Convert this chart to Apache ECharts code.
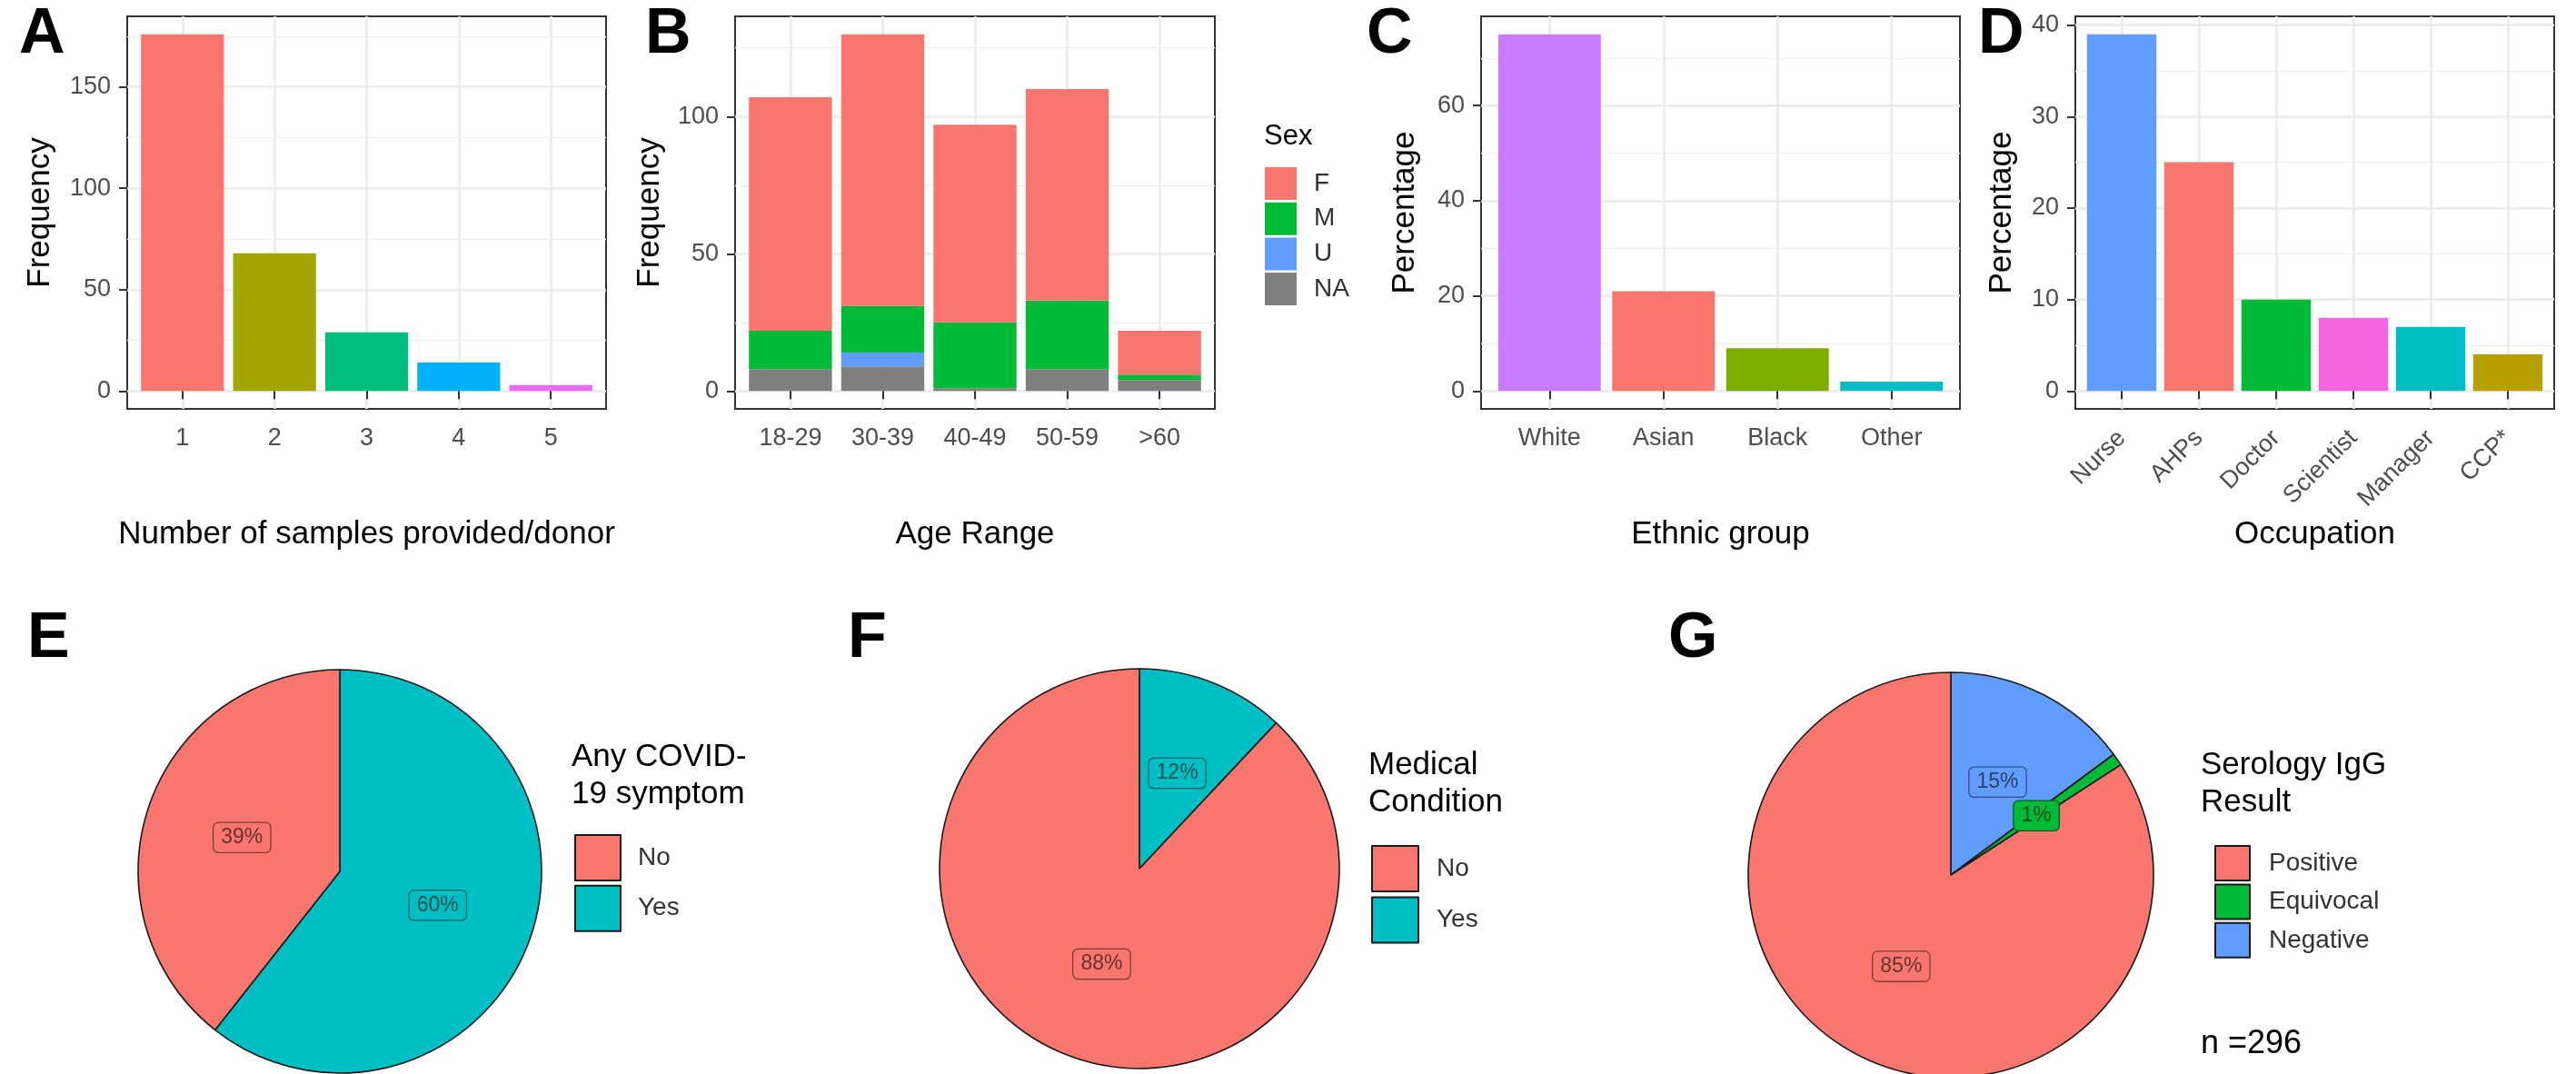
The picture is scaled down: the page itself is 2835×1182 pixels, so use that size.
<!DOCTYPE html>
<html>
<head>
<meta charset="utf-8">
<title>Donor characteristics</title>
<script src="https://cdn.jsdelivr.net/npm/echarts@6/dist/echarts.min.js"></script>
<style>
  html, body { margin: 0; padding: 0; background: #ffffff; }
  #chart { width: 2835px; height: 1182px; }
</style>
</head>
<body>
<div id="chart"></div>
<script>
// ---------- data ----------
// A: samples provided per donor
const sampleCounts = ['1', '2', '3', '4', '5'];
const donorFreq = [176, 68, 29, 14, 3];
const freqTicksA = [0, 50, 100, 150];
const freqMinorA = [25, 75, 125, 175];

// B: age range by sex (counts)
const ageRanges = ['18-29', '30-39', '40-49', '50-59', '>60'];
const sexLevels = ['F', 'M', 'U', 'NA'];
const ageF = [85, 99, 72, 77, 16];
const ageM = [14, 17, 24, 25, 2];
const ageU = [0, 5, 0, 0, 0];
const ageNA = [8, 9, 1, 8, 4];
const freqTicksB = [0, 50, 100];
const freqMinorB = [25, 75, 125];

// C: ethnic group (%)
const ethnicGroups = ['White', 'Asian', 'Black', 'Other'];
const ethnicPct = [75, 21, 9, 2];
const pctTicksC = [0, 20, 40, 60];
const pctMinorC = [10, 30, 50, 70];

// D: occupation (%)
const occupations = ['Nurse', 'AHPs', 'Doctor', 'Scientist', 'Manager', 'CCP*'];
const occupationPct = [39, 25, 10, 8, 7, 4];
const pctTicksD = [0, 10, 20, 30, 40];
const pctMinorD = [5, 15, 25, 35];

// E-G: pies (%)
const symptomLevels = ['No', 'Yes'];
const symptomPct = [39, 60];
const conditionLevels = ['No', 'Yes'];
const conditionPct = [88, 12];
const serologyLevels = ['Positive', 'Equivocal', 'Negative'];
const serologyPct = [85, 1, 15];
const sampleSize = 296;

// ---------- styling ----------
const FONT = "'Liberation Sans', Arial, Helvetica, sans-serif";
const hue5 = ['#F8766D', '#A3A500', '#00BF7D', '#00B0F6', '#E76BF3'];
const sexColors = { F: '#F8766D', M: '#00BA38', U: '#619CFF', NA: '#7F7F7F' };
const ethnicColors = ['#C77CFF', '#F8766D', '#7CAE00', '#00BFC4'];
const occupationColors = ['#619CFF', '#F8766D', '#00BA38', '#F564E3', '#00BFC4', '#B79F00'];
const yesNoColors = { No: '#F8766D', Yes: '#00BFC4' };
const serologyColors = { Positive: '#F8766D', Equivocal: '#00BA38', Negative: '#619CFF' };

function darken(hex, f) {
  const n = parseInt(hex.slice(1), 16);
  const r = Math.round(((n >> 16) & 255) * f);
  const g = Math.round(((n >> 8) & 255) * f);
  const b = Math.round((n & 255) * f);
  return 'rgb(' + r + ',' + g + ',' + b + ')';
}

// ---------- bar panels (top row) ----------
const PANEL_TOP = 18;
const PANEL_H = 432;
const panelBox = [
  { left: 140, right: 667 },
  { left: 809, right: 1337 },
  { left: 1630, right: 2157 },
  { left: 2284, right: 2811 }
];

const grids = [], xAxes = [], yAxes = [], series = [];

function addPanel(i, cats, yMax, ticks, minor, rotate) {
  const box = panelBox[i];
  const w = box.right - box.left;
  const pos = cats.map((c, k) => k + 1);
  grids.push({
    left: box.left, top: PANEL_TOP, width: w, height: PANEL_H,
    show: true, backgroundColor: '#ffffff', borderColor: '#333333', borderWidth: 2
  });
  xAxes.push({
    type: 'value', gridIndex: i, min: 0.4, max: cats.length + 0.6,
    axisLine: { show: false },
    axisTick: { show: true, length: 9, lineStyle: { color: '#333333', width: 2 }, customValues: pos },
    axisLabel: {
      customValues: pos, formatter: v => cats[Math.round(v) - 1],
      color: '#4D4D4D', fontSize: 27, fontFamily: FONT,
      margin: rotate ? 28 : 19, rotate: rotate || 0
    },
    splitLine: { show: true, lineStyle: { color: '#EBEBEB', width: 2.5 } }
  });
  // ggplot-style 5% expansion of the continuous axis
  const lo = -0.05 * yMax, hi = 1.05 * yMax;
  yAxes.push({
    type: 'value', gridIndex: i, min: lo, max: hi,
    axisLine: { show: false },
    axisTick: { show: true, length: 9, lineStyle: { color: '#333333', width: 2 }, customValues: ticks },
    axisLabel: { customValues: ticks, color: '#4D4D4D', fontSize: 27, fontFamily: FONT, margin: 18 },
    splitLine: { show: true, lineStyle: { color: '#EBEBEB', width: 2.5 } }
  });
  // minor gridlines
  yAxes.push({
    type: 'value', gridIndex: i, min: lo, max: hi, position: 'left',
    axisLine: { show: false },
    axisTick: { show: false, customValues: minor },
    axisLabel: { show: false, customValues: minor },
    splitLine: { show: true, lineStyle: { color: '#F1F1F1', width: 1.3 } }
  });
  return { xAxisIndex: i, yAxisIndex: 2 * i, barWidth: 0.9 * w / (cats.length + 0.2) };
}

// A
const pA = addPanel(0, sampleCounts, Math.max(...donorFreq), freqTicksA, freqMinorA);
series.push({
  type: 'bar', xAxisIndex: pA.xAxisIndex, yAxisIndex: pA.yAxisIndex, barWidth: pA.barWidth,
  data: donorFreq.map((v, k) => ({ value: [k + 1, v], itemStyle: { color: hue5[k] } }))
});

// B (stacked, F on top). Rows are [count, position] so the count column
// is the one that gets stacked.
const ageTotals = ageRanges.map((a, k) => ageF[k] + ageM[k] + ageU[k] + ageNA[k]);
const pB = addPanel(1, ageRanges, Math.max(...ageTotals), freqTicksB, freqMinorB);
const sexSeries = { F: ageF, M: ageM, U: ageU, NA: ageNA };
['NA', 'U', 'M', 'F'].forEach(s => {
  series.push({
    type: 'bar', name: s, stack: 'sex',
    xAxisIndex: pB.xAxisIndex, yAxisIndex: pB.yAxisIndex, barWidth: pB.barWidth,
    itemStyle: { color: sexColors[s] },
    encode: { x: 1, y: 0 },
    data: sexSeries[s].map((v, k) => [v, k + 1])
  });
});

// C
const pC = addPanel(2, ethnicGroups, Math.max(...ethnicPct), pctTicksC, pctMinorC);
series.push({
  type: 'bar', xAxisIndex: pC.xAxisIndex, yAxisIndex: pC.yAxisIndex, barWidth: pC.barWidth,
  data: ethnicPct.map((v, k) => ({ value: [k + 1, v], itemStyle: { color: ethnicColors[k] } }))
});

// D
const pD = addPanel(3, occupations, Math.max(...occupationPct), pctTicksD, pctMinorD, 45);
series.push({
  type: 'bar', xAxisIndex: pD.xAxisIndex, yAxisIndex: pD.yAxisIndex, barWidth: pD.barWidth,
  data: occupationPct.map((v, k) => ({ value: [k + 1, v], itemStyle: { color: occupationColors[k] } }))
});

// ---------- pies (bottom row) ----------
function addPie(levels, values, colors, center, radius) {
  const items = levels.map((name, k) => {
    const c = colors[name];
    return {
      name: name, value: values[k],
      itemStyle: { color: c },
      label: {
        color: darken(c, 0.42), backgroundColor: c,
        borderColor: darken(c, 0.5), borderWidth: 1.3, borderRadius: 5
      }
    };
  }).reverse();
  series.push({
    type: 'pie', center: center, radius: radius,
    startAngle: 90, clockwise: true, avoidLabelOverlap: false,
    itemStyle: { borderColor: '#1a1a1a', borderWidth: 1.6 },
    label: {
      show: true, position: 'inside', formatter: '{c}%',
      fontSize: 23, fontFamily: FONT, padding: [5, 8, 4, 8]
    },
    labelLine: { show: false },
    emphasis: { disabled: true },
    data: items
  });
}
addPie(symptomLevels, symptomPct, yesNoColors, [374, 959], 222);
addPie(conditionLevels, conditionPct, yesNoColors, [1254, 956], 220);
addPie(serologyLevels, serologyPct, serologyColors, [2147, 963], 223);

// ---------- legends ----------
function legendBox(names, left, top, size, gap, textPad, bordered) {
  return {
    data: names, left: left, top: top, orient: 'vertical', icon: 'rect',
    itemWidth: size[0], itemHeight: size[1], itemGap: gap,
    selectedMode: false, padding: 0,
    itemStyle: bordered ? { borderColor: '#1a1a1a', borderWidth: 2 } : { borderWidth: 0 },
    textStyle: { fontSize: 28, color: '#333333', fontFamily: FONT, padding: [0, 0, 0, textPad] }
  };
}
const legends = [
  legendBox(sexLevels, 1392, 184, [35, 36], 2.7, 14, false),
  legendBox(symptomLevels, 632, 918, [50, 50], 3.7, 14, true),
  legendBox(conditionLevels, 1509, 930, [51, 50], 4.4, 15, true),
  legendBox(serologyLevels, 2437, 930, [38, 38], 2.4, 16, true)
];

// ---------- text ----------
function txt(text, x, y, size, opts) {
  opts = opts || {};
  return {
    type: 'text', x: x, y: y, rotation: opts.rot || 0, silent: true,
    style: {
      text: text, fontSize: size, fontFamily: FONT, fontWeight: opts.bold ? 'bold' : 'normal',
      fill: opts.fill || '#000000', align: opts.align || 'left', verticalAlign: 'middle'
    }
  };
}
const graphics = [
  // panel letters
  txt('A', 21, 39, 70, { bold: true }),
  txt('B', 710, 39, 70, { bold: true }),
  txt('C', 1504, 39, 70, { bold: true }),
  txt('D', 2177, 39, 70, { bold: true }),
  txt('E', 30, 704, 70, { bold: true }),
  txt('F', 933, 704, 70, { bold: true }),
  txt('G', 1836, 704, 70, { bold: true }),
  // axis titles
  txt('Number of samples provided/donor', (panelBox[0].left + panelBox[0].right) / 2, 588, 35, { align: 'center' }),
  txt('Age Range', (panelBox[1].left + panelBox[1].right) / 2, 588, 35, { align: 'center' }),
  txt('Ethnic group', (panelBox[2].left + panelBox[2].right) / 2, 588, 35, { align: 'center' }),
  txt('Occupation', (panelBox[3].left + panelBox[3].right) / 2, 588, 35, { align: 'center' }),
  txt('Frequency', 44, PANEL_TOP + PANEL_H / 2, 35, { align: 'center', rot: Math.PI / 2 }),
  txt('Frequency', 715, PANEL_TOP + PANEL_H / 2, 35, { align: 'center', rot: Math.PI / 2 }),
  txt('Percentage', 1546, PANEL_TOP + PANEL_H / 2, 35, { align: 'center', rot: Math.PI / 2 }),
  txt('Percentage', 2203, PANEL_TOP + PANEL_H / 2, 35, { align: 'center', rot: Math.PI / 2 }),
  // legend titles
  txt('Sex', 1391, 150, 31),
  txt('Any COVID-', 629, 833, 35),
  txt('19 symptom', 629, 874, 35),
  txt('Medical', 1506, 842, 35),
  txt('Condition', 1506, 883, 35),
  txt('Serology IgG', 2422, 842, 35),
  txt('Result', 2422, 883, 35),
  txt('n =' + sampleSize, 2422, 1149, 36)
];

const chart = echarts.init(document.getElementById('chart'), null, { renderer: 'canvas' });
chart.setOption({
  animation: false,
  backgroundColor: '#ffffff',
  grid: grids,
  xAxis: xAxes,
  yAxis: yAxes,
  legend: legends,
  series: series,
  graphic: graphics
});
</script>
</body>
</html>
